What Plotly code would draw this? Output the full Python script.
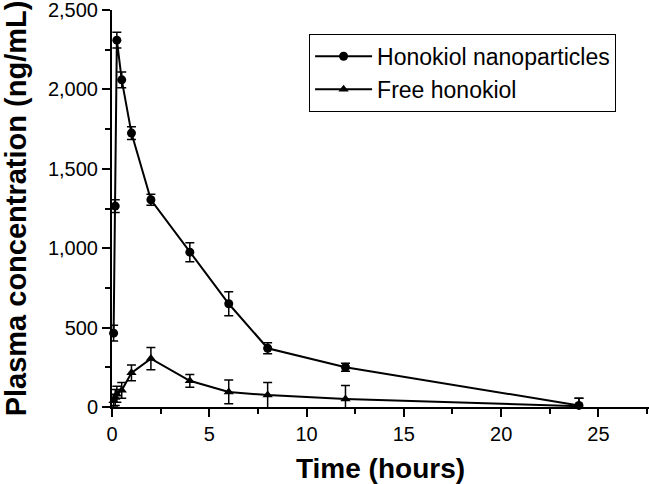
import plotly.graph_objects as go

# time points (hours)
time_np = [0.083, 0.167, 0.25, 0.5, 1, 2, 4, 6, 8, 12, 24]
conc_np = [465, 1265, 2310, 2060, 1725, 1305, 975, 650, 370, 250, 10]
err_np = [50, 40, 50, 50, 40, 35, 60, 75, 35, 25, 45]

time_free = [0.083, 0.167, 0.25, 0.5, 1, 2, 4, 6, 8, 12, 24]
conc_free = [40, 60, 80, 105, 215, 305, 165, 95, 75, 50, 5]
err_free = [40, 50, 50, 50, 50, 70, 40, 75, 80, 85, 50]

x_ticks = [0, 5, 10, 15, 20, 25]
y_ticks = [0, 500, 1000, 1500, 2000, 2500]

fig = go.Figure()

fig.add_trace(go.Scatter(
    x=time_np, y=conc_np,
    mode='lines+markers',
    name='Honokiol nanoparticles',
    line=dict(color='black', width=2),
    marker=dict(symbol='circle', size=9, color='black'),
    error_y=dict(type='data', array=err_np, color='black', thickness=1.5, width=4.5),
    cliponaxis=False
))

fig.add_trace(go.Scatter(
    x=time_free, y=conc_free,
    mode='lines+markers',
    name='Free honokiol',
    line=dict(color='black', width=2),
    marker=dict(symbol='triangle-up', size=9, color='black'),
    error_y=dict(type='data', array=err_free, color='black', thickness=1.5, width=4.5),
    cliponaxis=False
))

fig.update_layout(
    width=649, height=484,
    margin=dict(l=112, r=0, t=10, b=77),
    plot_bgcolor='white',
    paper_bgcolor='white',
    font=dict(family='Arial, Liberation Sans, sans-serif', color='black', size=20),
    showlegend=True,
    legend=dict(
        x=0.367, y=0.94, xanchor='left', yanchor='top',
        bordercolor='black', borderwidth=1,
        font=dict(size=23),
        bgcolor='white',
        itemwidth=57,
        tracegroupgap=0
    ),
    xaxis=dict(
        range=[0, 27.6],
        tickvals=x_ticks,
        automargin=False,
        showline=True, linecolor='black', linewidth=2,
        ticks='outside', ticklen=8, tickwidth=2, tickcolor='black',
        minor=dict(dtick=2.5, ticks='outside', ticklen=5, tickwidth=2, tickcolor='black'),
        showgrid=False, zeroline=False,
        title=dict(text='<b>Time (hours)</b>', font=dict(size=28), standoff=15)
    ),
    yaxis=dict(
        range=[0, 2500],
        tickvals=y_ticks,
        tickformat=',',
        automargin=False,
        ticklabeloverflow='allow',
        showline=True, linecolor='black', linewidth=2,
        ticks='outside', ticklen=8, tickwidth=2, tickcolor='black',
        minor=dict(dtick=250, ticks='outside', ticklen=5, tickwidth=2, tickcolor='black'),
        showgrid=False, zeroline=False,
        title=dict(text='<b>Plasma concentration (ng/mL)</b>', font=dict(size=29), standoff=23)
    )
)

# the page body has a default 8px margin; drop it so the figure sits at 0,0
fig.write_html("out.html", config={'displayModeBar': False},
               post_script="document.body.style.margin='0';")
